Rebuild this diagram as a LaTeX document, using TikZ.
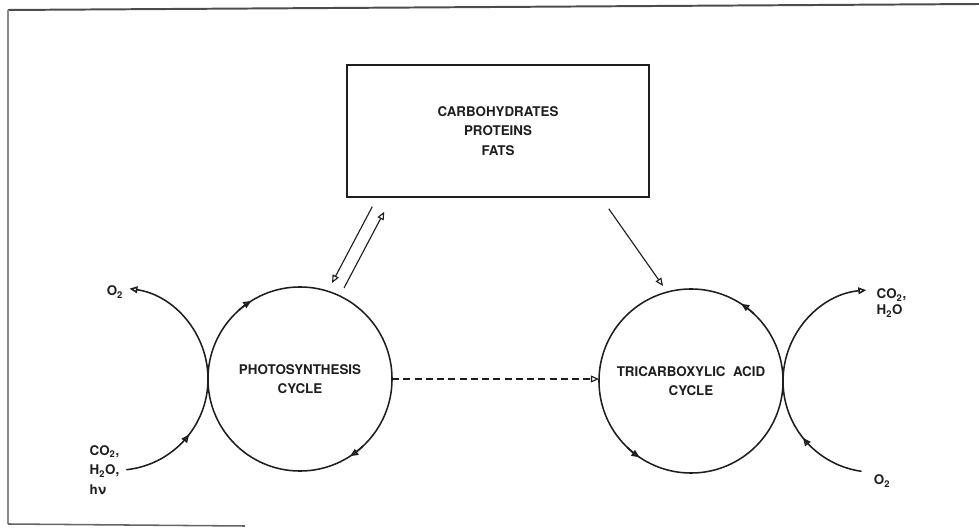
\documentclass[tikz,border=0pt]{standalone}
\usepackage{fontspec}
\setmainfont{TeX Gyre Heros}
\usepackage{tikz}
\usetikzlibrary{positioning,arrows.meta,calc,decorations.markings}
\definecolor{cycInk}{RGB}{30,30,30}
\newcommand{\ringr}{2.3cm}
\newcommand{\hookr}{2.28cm}
\tikzset{
  cyc/tip/.style={-{Triangle[open, length=2mm, width=1.7mm]}},
  cyc/txt/.style={font=\fontsize{9.5}{14}\selectfont\bfseries, text=cycInk, align=center},
  cyc/box/.style={draw=cycInk, line width=1pt, minimum width=7.55cm, minimum height=3.3cm,
                  inner sep=0pt, cyc/txt},
  cyc/ring/.style={draw=cycInk, circle, line width=1.1pt, minimum size=4.6cm,
                   inner sep=0pt, outer sep=0pt, cyc/txt},
  cyc/lbl/.style={font=\fontsize{9.5}{14}\selectfont\bfseries, text=cycInk, inner sep=1pt},
  cyc/arrow/.style={cyc/tip, line width=0.8pt, draw=cycInk},
  cyc/dash arrow/.style={cyc/arrow, dashed, dash pattern=on 5pt off 3pt},
  cyc/ring tip/.style={cyc/tip, line width=1.1pt, draw=cycInk},
  cyc/hook/.style={line width=1.1pt, draw=cycInk, postaction={decorate},
    decoration={markings, mark=at position #1 with {\arrow{Triangle[open, length=2mm, width=1.7mm]}}}},
}

\begin{document}
\begin{tikzpicture}[x=0.025cm, y=0.025cm]
  \useasboundingbox (0,0) rectangle (979,-530);

  % ---------------- scanned frame ----------------
  \draw[black!70, line width=1.4pt] (8,-10) -- (979,-4);
  \draw[black!45, line width=0.8pt] (8,-10) -- (8,-524);
  \draw[black!60, line width=1.1pt] (8,-524) -- (245,-526);

  % ---------------- nodes ----------------
  \node[cyc/box] (food) at (498,-131) {CARBOHYDRATES\\PROTEINS\\FATS};
  \node[cyc/ring] (photo) at (300,-379) {PHOTOSYNTHESIS\\CYCLE};
  \node[cyc/ring] (tca) at (691,-381) {TRICARBOXYLIC\ \ ACID\\CYCLE};

  \node[cyc/lbl] (oxout) at (115,-292) {O\textsubscript{2}};
  \node[cyc/lbl, anchor=west, align=left] (photoin) at (88,-470)
    {CO\textsubscript{2},\\H\textsubscript{2}O,\\hν};
  \node[cyc/lbl, anchor=west, align=left,
        font=\fontsize{9.5}{11.4}\selectfont\bfseries] (tcaout) at (875,-303)
    {CO\textsubscript{2},\\H\textsubscript{2}O};
  \node[cyc/lbl] (oxin) at (882,-481) {O\textsubscript{2}};

  % ---------------- box <-> cycles ----------------
  \draw[cyc/arrow] ([shift={(26,-9)}]food.south west) -- ([shift={(32,96)}]photo.center);
  \draw[cyc/arrow] ([shift={(44,91)}]photo.center) -- ([shift={(38,-14)}]food.south west);
  \draw[cyc/arrow] ([shift={(-41,-11)}]food.south east) -- ([shift={(-28,95)}]tca.center);

  % ---------------- photosynthesis -> TCA ----------------
  \draw[cyc/dash arrow] (photo.east) -- (photo.east -| tca.west);

  % ---------------- direction of the cycles ----------------
  \draw[cyc/ring tip] (photo.132) arc[start angle=132, end angle=122, radius=\ringr];
  \draw[cyc/ring tip] (photo.-47) arc[start angle=-47, end angle=-57, radius=\ringr];
  \draw[cyc/ring tip] (tca.47) arc[start angle=47, end angle=57, radius=\ringr];
  \draw[cyc/ring tip] (tca.226) arc[start angle=226, end angle=236, radius=\ringr];

  % ---------------- side hooks ----------------
  \coordinate (lhub) at ([xshift=-4.58cm]photo.center);
  \coordinate (lstart) at ($(lhub)+(-84:\hookr)$);
  \draw[cyc/hook=0.28, cyc/tip] (lstart) arc[start angle=-84, end angle=82, radius=\hookr];

  \coordinate (rhub) at ([xshift=4.58cm]tca.center);
  \coordinate (rstart) at ($(rhub)+(262:\hookr)$);
  \draw[cyc/hook=0.26, cyc/tip] (rstart) arc[start angle=262, end angle=95, radius=\hookr];

\end{tikzpicture}
\end{document}
